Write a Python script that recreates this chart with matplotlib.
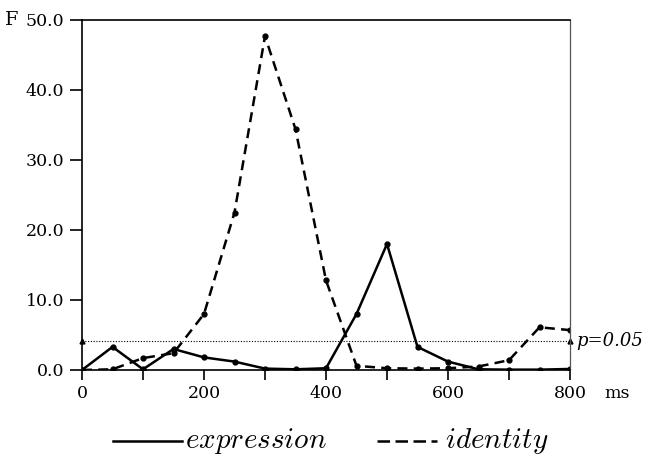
"""F statistics over time for expression vs identity effects."""
import matplotlib

matplotlib.use("Agg")
import matplotlib.pyplot as plt
from matplotlib.lines import Line2D

plt.rcParams["font.family"] = "DejaVu Serif"
plt.rcParams["mathtext.fontset"] = "cm"

# time points in ms and F values
time_ms = [0, 50, 100, 150, 200, 250, 300, 350, 400, 450, 500, 550, 600, 650, 700, 750, 800]
f_expression = [0.0, 3.3, 0.1, 3.0, 1.8, 1.2, 0.2, 0.1, 0.25, 8.0, 18.0, 3.3, 1.2, 0.1, 0.05, 0.05, 0.15]
f_identity = [0.0, 0.1, 1.7, 2.4, 8.0, 22.5, 47.7, 34.4, 12.8, 0.6, 0.25, 0.2, 0.25, 0.5, 1.4, 6.1, 5.7]
f_crit = 4.2  # p = 0.05 threshold

y_ticks = [0, 10, 20, 30, 40, 50]
x_ticks = [0, 200, 400, 600, 800]
x_minor = [100, 300, 500, 700]
series_names = ["expression", "identity"]

W, H = 645, 457
fig = plt.figure(figsize=(W / 100, H / 100), dpi=100)
ax = fig.add_axes([82 / W, 1 - 370 / H, 488 / W, 350 / H])

dash = (0, (4, 2.5))
ax.plot(time_ms, f_expression, color="black", lw=1.8, marker="o", ms=3.5)
ax.plot(time_ms, f_identity, color="black", lw=1.8, ls=dash, marker="o", ms=3.5)

# p = 0.05 line with small triangle caps
ax.axhline(f_crit, color="black", lw=0.8, ls=(0, (1, 1.5)))
ax.plot([0, 800], [f_crit, f_crit], ls="none", marker="^", ms=3.5,
        color="black", clip_on=False)
ax.text(810, f_crit, "p=0.05", style="italic", fontsize=13,
        va="center", ha="left")

ax.set_xlim(0, 800)
ax.set_ylim(0, 50)
ax.set_xticks(x_ticks)
ax.set_xticks(x_minor, minor=True)
ax.set_yticks(y_ticks)
ax.set_yticklabels([f"{v:.1f}" for v in y_ticks])
ax.tick_params(axis="both", direction="out", labelsize=12.5, width=1.2)
ax.tick_params(axis="y", length=9, pad=4)
ax.tick_params(axis="x", which="both", length=7, width=1.2, pad=4)

for side in ["left", "bottom", "top"]:
    ax.spines[side].set_linewidth(1.2)
ax.spines["right"].set_linewidth(0.9)
ax.spines["right"].set_color("#555555")

fig.text(5 / W, 1 - 20 / H, "F", fontsize=14, va="center", ha="left")
fig.text(617 / W, 1 - 393 / H, "ms", fontsize=12.5, va="center", ha="center")

# legend drawn by hand: the two samples have different lengths
ly = 1 - 441 / H
fig.add_artist(Line2D([113 / W, 182 / W], [ly, ly], color="black", lw=1.8))
fig.text(185 / W, ly, r"$\mathit{" + series_names[0] + "}$", fontsize=21,
         va="center", ha="left")
fig.add_artist(Line2D([377 / W, 437 / W], [ly, ly], color="black", lw=1.8,
                      ls=(0, (5, 2.2))))
fig.text(445 / W, ly, r"$\mathit{" + series_names[1] + "}$", fontsize=21,
         va="center", ha="left")

fig.savefig("out.png", dpi=100)
plt.close(fig)
